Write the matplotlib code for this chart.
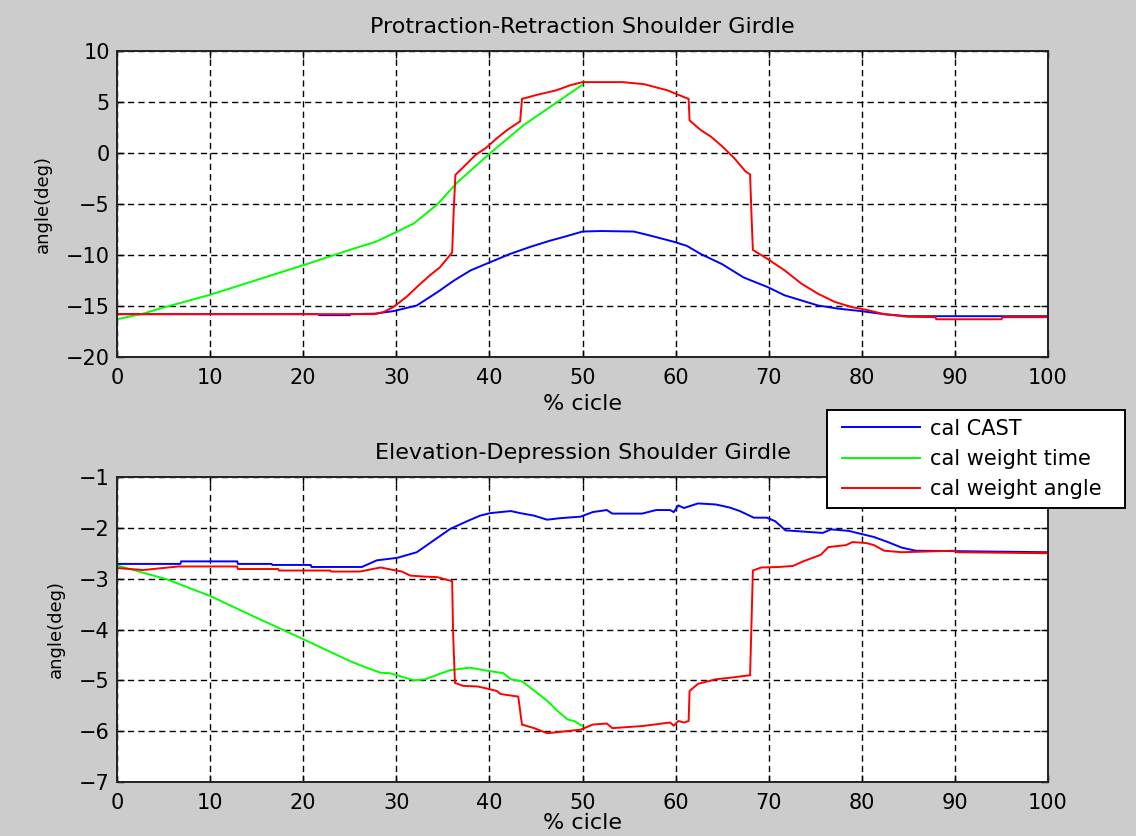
import matplotlib
matplotlib.use("Agg")
import matplotlib.pyplot as plt
from matplotlib.lines import Line2D
from matplotlib.legend_handler import HandlerLine2D

# ---------------- data: protraction-retraction (top) ----------------
pr_cast_x = [0, 21.6, 21.7, 25, 25.1, 27.7, 29.7, 32.2, 34.4, 36.2, 38, 40.1, 42.2, 44.4,
             46.5, 48.3, 50, 52, 55.5, 57.3, 59.8, 61.2, 62.7, 65, 67.3, 69.9, 71.7,
             73.5, 75.3, 77.4, 79.9, 82.4, 84.9, 100]
pr_cast_y = [-15.8, -15.8, -15.9, -15.9, -15.8, -15.75, -15.5, -14.95, -13.65, -12.5,
             -11.5, -10.7, -9.9, -9.2, -8.6, -8.15, -7.7, -7.65, -7.7, -8.1, -8.7, -9.1,
             -9.9, -10.9, -12.2, -13.15, -13.95, -14.45, -14.95, -15.25, -15.5, -15.8,
             -16.0, -16.0]

pr_time_x = [0, 1, 2.8, 5, 10, 15, 20, 25, 27.8, 30, 31.9, 34.4, 36.5, 40.1, 43.7, 47.3, 50]
pr_time_y = [-16.3, -16.1, -15.75, -15.15, -13.9, -12.45, -11.0, -9.5, -8.7, -7.75, -6.9,
             -5.04, -2.93, 0.0, 2.75, 5.0, 6.7]

pr_angle_x = [0, 27.7, 28.6, 29.7, 31.1, 32.2, 33.6, 34.7, 36.0, 36.15, 36.35, 37.3, 38.5,
              39.7, 40.8, 41.9, 43.3, 43.5, 45.1, 47.2, 48.7, 50, 54.3, 56.6, 59.1, 61.4,
              61.5, 62.7, 63.8, 65, 66.3, 67.5, 68.0, 68.15, 68.3, 69.9, 71.7, 73.5, 75.3,
              77.1, 78.9, 80.6, 82.4, 84.9, 87.9, 88, 95, 95.1, 100]
pr_angle_y = [-15.8, -15.8, -15.6, -15.1, -14.1, -13.15, -12.0, -11.2, -9.75, -6.0, -2.15,
              -1.3, -0.2, 0.55, 1.45, 2.25, 3.1, 5.3, 5.7, 6.15, 6.65, 6.95, 6.95, 6.75,
              6.15, 5.3, 3.2, 2.25, 1.6, 0.65, -0.5, -1.8, -2.1, -6.0, -9.5, -10.4, -11.5,
              -12.8, -13.8, -14.6, -15.1, -15.4, -15.8, -16.05, -16.1, -16.3, -16.3, -16.1,
              -16.1]

# ---------------- data: elevation-depression (bottom) ----------------
ed_cast_x = [0, 6.8, 6.9, 12.9, 13.0, 16.6, 16.7, 20.8, 20.9, 26.3, 27.9, 30.1, 32.2, 34,
             35.8, 37.6, 39, 40.1, 42.3, 43.3, 44.8, 46.2, 47.6, 49.8, 51.1, 52.6, 53.2,
             56.4, 57.9, 59.4, 59.8, 60.3, 60.9, 62.4, 64.3, 65.8, 66.9, 68.4, 69.8, 70.7,
             71.8, 75.8, 76.7, 78.6, 79.7, 81.3, 82.8, 84.3, 85.8, 100]
ed_cast_y = [-2.71, -2.71, -2.66, -2.66, -2.71, -2.71, -2.73, -2.73, -2.77, -2.77, -2.64,
             -2.59, -2.48, -2.25, -2.02, -1.87, -1.76, -1.71, -1.67, -1.71, -1.76, -1.84,
             -1.81, -1.78, -1.69, -1.65, -1.72, -1.72, -1.65, -1.65, -1.69, -1.56, -1.61,
             -1.52, -1.54, -1.6, -1.67, -1.8, -1.8, -1.87, -2.05, -2.1, -2.03, -2.06,
             -2.11, -2.18, -2.28, -2.39, -2.45, -2.48]

ed_time_x = [0, 5.3, 10, 15, 20, 25, 26.8, 28.3, 29.3, 30.6, 31.9, 33.1, 34.7, 35.8, 37.9,
             39.4, 41.5, 42.3, 43.5, 44.8, 46.2, 47.3, 48.4, 49.1, 50]
ed_time_y = [-2.74, -3.01, -3.34, -3.77, -4.19, -4.62, -4.75, -4.85, -4.86, -4.93, -5.0,
             -4.98, -4.87, -4.8, -4.75, -4.8, -4.86, -4.98, -5.02, -5.2, -5.4, -5.6, -5.77,
             -5.8, -5.9]

ed_angle_x = [0, 2.8, 6.6, 12.9, 13, 17.3, 17.4, 22.9, 23, 26.1, 27.2, 28.3, 29.7, 30.6,
              31.5, 33.1, 34.4, 36.0, 36.1, 36.3, 37.2, 38.7, 39.7, 40.8, 41.2, 43.1, 43.3,
              43.5, 44.8, 46.2, 47.3, 49.8, 51.1, 52.6, 53.2, 56.4, 59.4, 59.8, 60.3, 60.9,
              61.4, 61.5, 62.4, 64.3, 65.8, 68.0, 68.15, 68.3, 69.2, 71.1, 72.6, 73.7, 75.6,
              76.4, 78.3, 79.0, 80.5, 81.3, 82.4, 84.3, 89.9, 90.3, 100]
ed_angle_y = [-2.79, -2.83, -2.76, -2.76, -2.81, -2.81, -2.84, -2.84, -2.86, -2.86, -2.82,
              -2.78, -2.83, -2.86, -2.94, -2.96, -2.97, -3.05, -4.06, -5.05, -5.11, -5.12,
              -5.16, -5.21, -5.27, -5.32, -5.6, -5.87, -5.94, -6.04, -6.02, -5.97, -5.87,
              -5.85, -5.94, -5.9, -5.83, -5.89, -5.8, -5.83, -5.8, -5.21, -5.07, -4.98,
              -4.95, -4.9, -3.9, -2.84, -2.78, -2.77, -2.75, -2.66, -2.53, -2.38, -2.34,
              -2.28, -2.3, -2.34, -2.45, -2.48, -2.45, -2.48, -2.5]

series_labels = ["cal CAST", "cal weight time", "cal weight angle"]
series_colors = ["#0000ff", "#00ff00", "#ff0000"]

x_ticks = list(range(0, 101, 10))
top_yticks = list(range(-20, 11, 5))
bottom_yticks = list(range(-7, 0, 1))

titles = ["Protraction-Retraction Shoulder Girdle", "Elevation-Depression Shoulder Girdle"]
x_label = "% cicle"
y_label = "angle(deg)"

# ---------------- figure ----------------
plt.rcParams["font.family"] = ["DejaVu Sans"]
fig = plt.figure(figsize=(11.36, 8.36), dpi=100, facecolor="#cccccc")

W, H = 1136.0, 836.0
ax_top = fig.add_axes([117 / W, 1 - 357 / H, 931 / W, 306 / H])
ax_bot = fig.add_axes([117 / W, 1 - 782 / H, 931 / W, 305 / H])

panels = [
    (ax_top, [(pr_cast_x, pr_cast_y), (pr_time_x, pr_time_y), (pr_angle_x, pr_angle_y)],
     (-20, 10), top_yticks, titles[0], 4),
    (ax_bot, [(ed_cast_x, ed_cast_y), (ed_time_x, ed_time_y), (ed_angle_x, ed_angle_y)],
     (-7, -1), bottom_yticks, titles[1], 0),
]

handles = []
for ax, curves, ylim, yticks, title, xlpad in panels:
    ax.set_facecolor("white")
    hs = []
    for (xs, ys), lab, col in zip(curves, series_labels, series_colors):
        h, = ax.plot(xs, ys, color=col, lw=1.4, label=lab, solid_joinstyle="miter")
        hs.append(h)
    handles = hs
    ax.set_xlim(0, 100)
    ax.set_ylim(*ylim)
    ax.set_xticks(x_ticks)
    ax.set_yticks(yticks)
    ax.grid(True, color="black", linestyle=(0, (4.5, 3.0)), linewidth=1.0)
    ax.tick_params(direction="in", length=5, width=1.0, top=True, right=True,
                   labelsize=15, colors="black")
    ax.tick_params(axis="x", pad=8)
    ax.tick_params(axis="y", pad=5)
    for sp in ax.spines.values():
        sp.set_linewidth(1.4)
        sp.set_color("#222222")
    ax.set_title(title, fontsize=16, pad=13)
    ax.set_xlabel(x_label, fontsize=16, labelpad=xlpad)
    ax.set_ylabel(y_label, fontsize=13, labelpad=10)

leg = fig.legend(handles, series_labels, loc="center", mode="expand",
                 bbox_to_anchor=(827 / W, 1 - 507 / H, 298 / W, 96 / H),
                 fontsize=15, frameon=True, fancybox=False, shadow=False,
                 handlelength=4.05, handletextpad=0.45, labelspacing=0.5,
                 borderpad=0.42, borderaxespad=0.0,
                 handler_map={Line2D: HandlerLine2D(xpad=0.3)})
leg.get_frame().set_edgecolor("black")
leg.get_frame().set_linewidth(1.4)
leg.get_frame().set_facecolor("white")
leg.get_frame().set_alpha(1.0)

fig.savefig("out.png", dpi=100, facecolor=fig.get_facecolor())
